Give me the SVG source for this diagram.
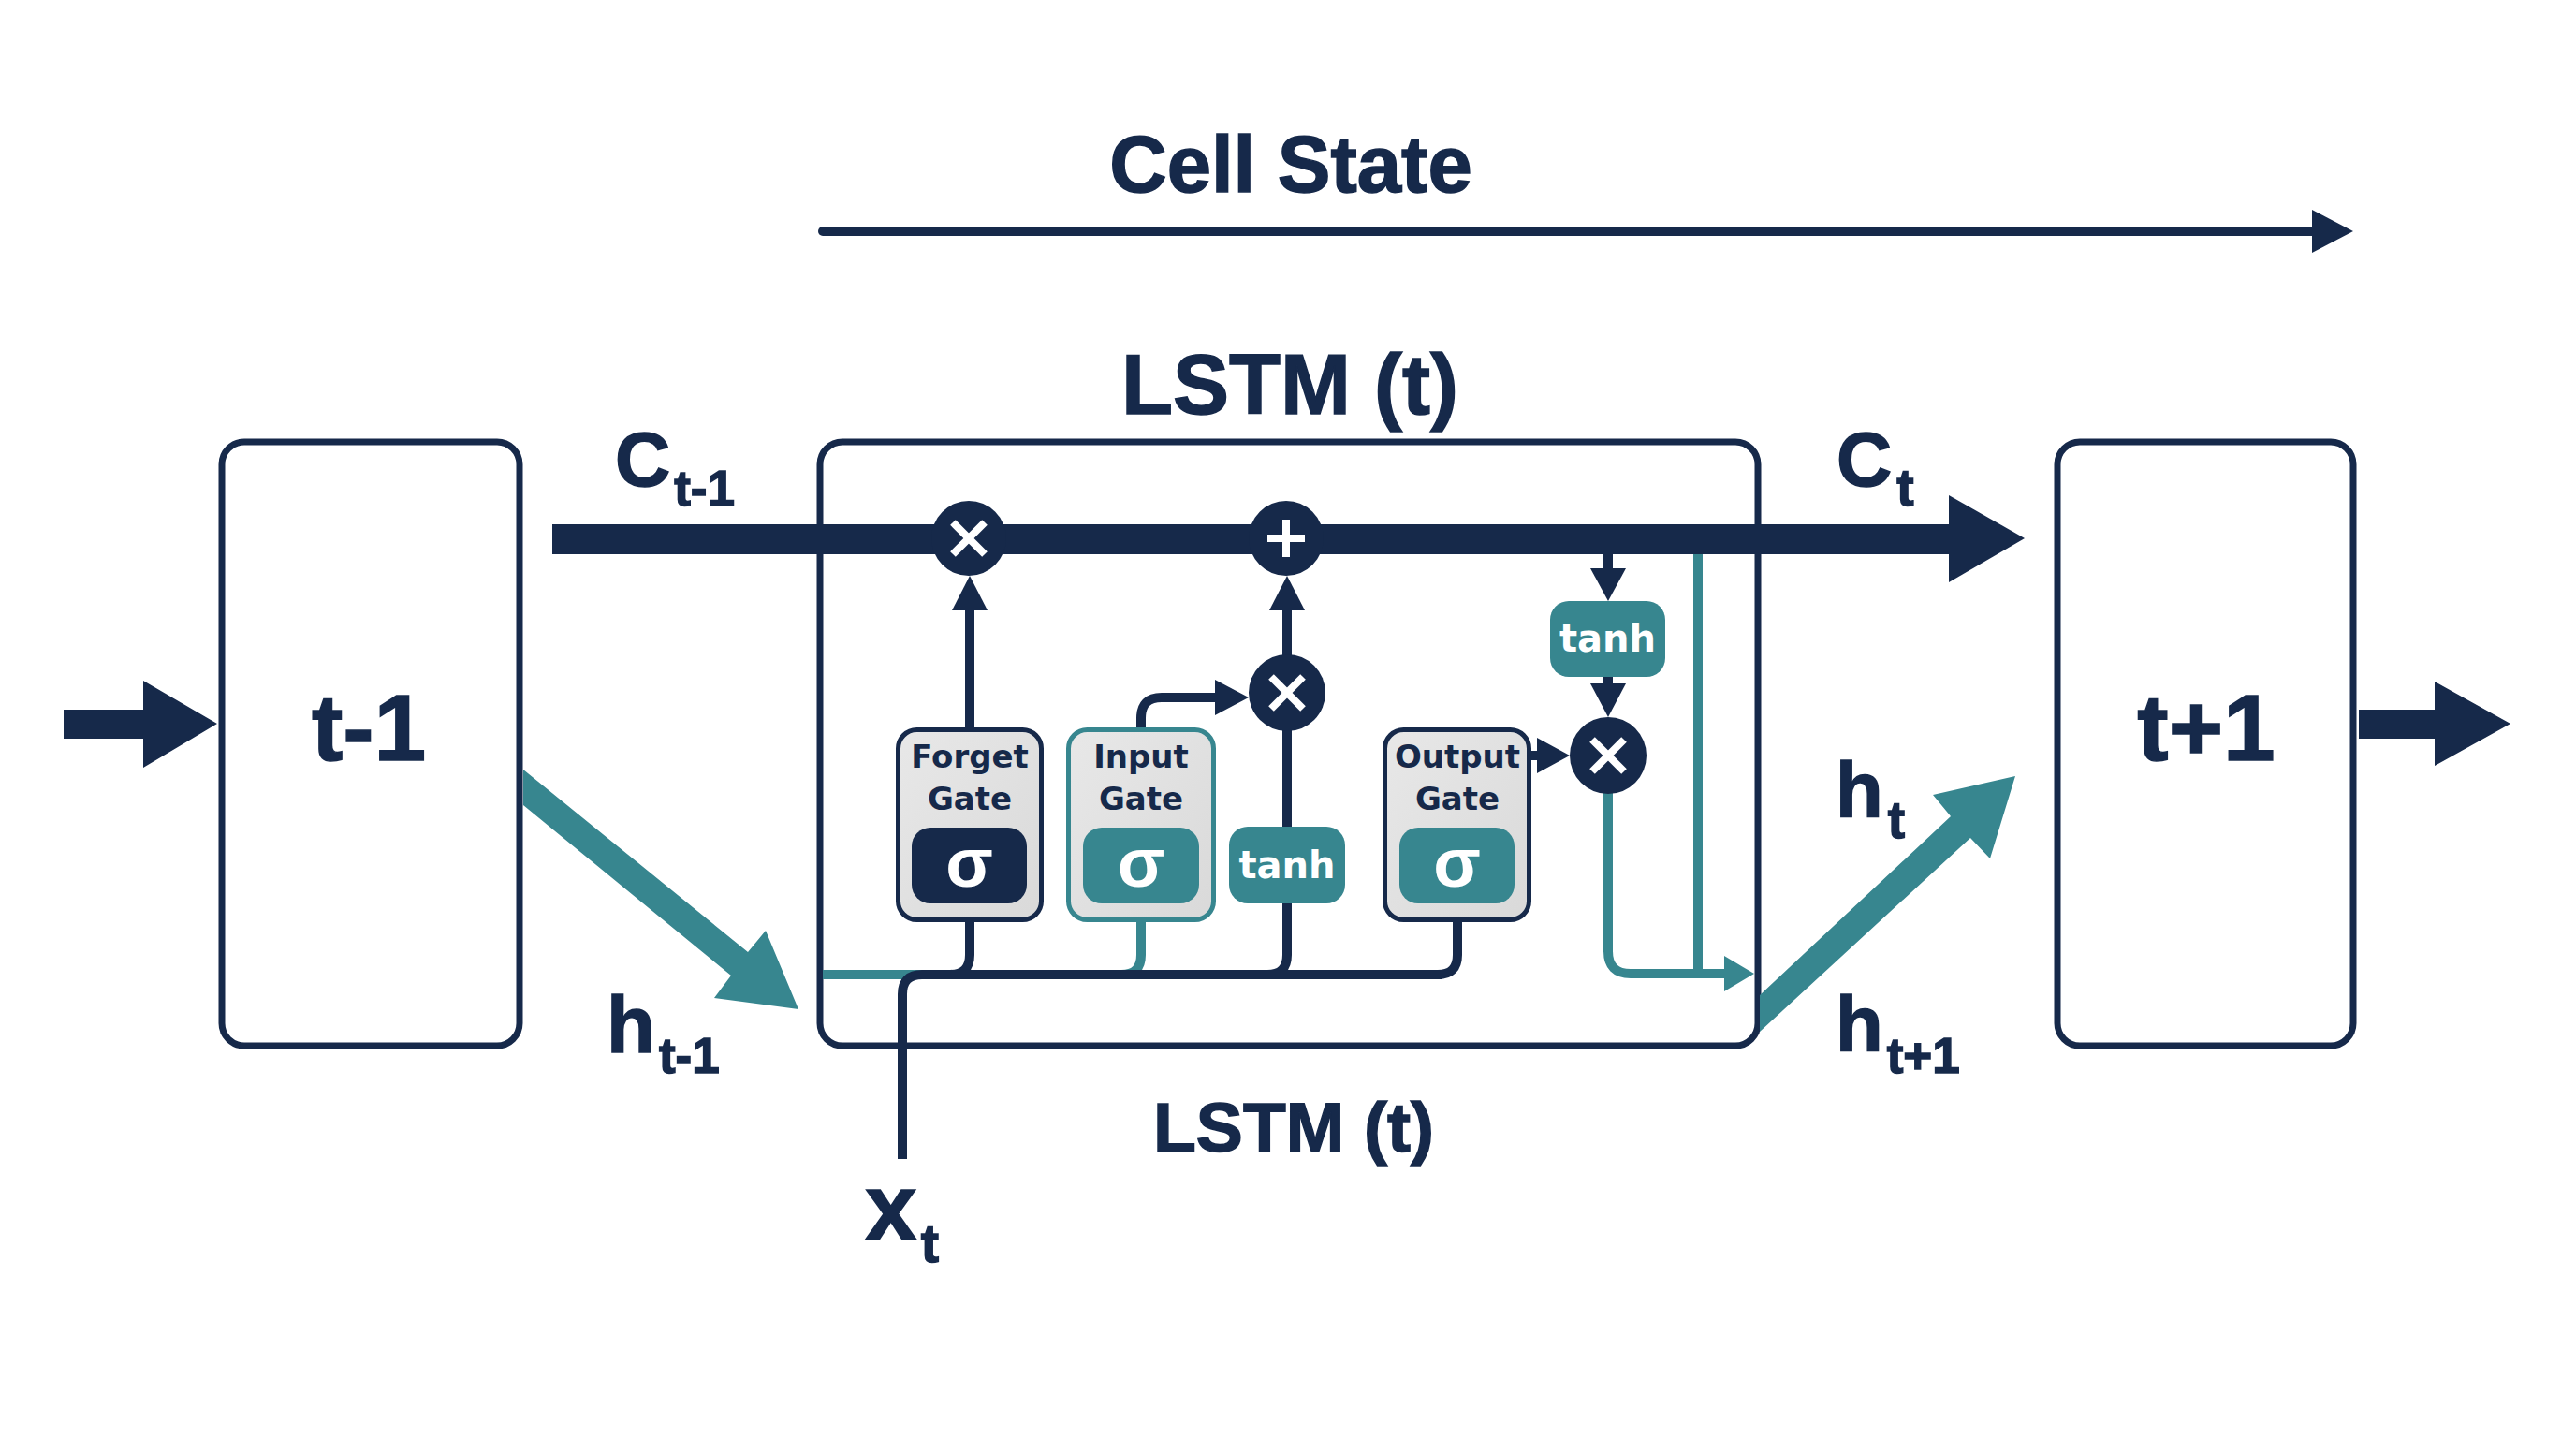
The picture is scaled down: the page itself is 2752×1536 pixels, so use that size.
<svg xmlns="http://www.w3.org/2000/svg" width="2752" height="1536" viewBox="0 0 2752 1536">
  <defs>
    <style>
      .lbl{font-family:"Liberation Sans",Arial,sans-serif;font-weight:700;fill:#16294a;stroke:#16294a;stroke-width:1.5}
      .gl{font-family:"DejaVu Sans","Liberation Sans",sans-serif;font-weight:700;fill:#16294a;font-size:34px;text-anchor:middle}
      .wt{font-family:"DejaVu Sans","Liberation Sans",sans-serif;font-weight:700;fill:#ffffff;font-size:40px;text-anchor:middle}
      .sig{font-family:"Liberation Sans",Arial,sans-serif;font-weight:700;fill:#ffffff;font-size:74px;text-anchor:middle}
      .frame{fill:#ffffff;stroke:#16294a;stroke-width:7}
      .gate{stroke-width:5;fill:url(#gray)}
      .nv{fill:none;stroke:#16294a;stroke-width:10}
      .tl{fill:none;stroke:#37868f;stroke-width:10}
      .nvf{fill:#16294a}
      .tlf{fill:#37868f}
      .op{fill:#16294a}
      .sym{stroke:#ffffff;stroke-width:8;stroke-linecap:butt}
    </style>
    <linearGradient id="gray" x1="0" y1="0" x2="1" y2="1">
      <stop offset="0" stop-color="#e8e8e8"/>
      <stop offset="1" stop-color="#d9d9d9"/>
    </linearGradient>
  </defs>
  <rect width="2752" height="1536" fill="#ffffff"/>

  <!-- Title labels -->
  <g id="title-cell-state">
    <text class="lbl" x="1379" y="205" font-size="85" text-anchor="middle">Cell State</text>
    <line x1="879" y1="247" x2="2476" y2="247" stroke="#16294a" stroke-width="10" stroke-linecap="round"/>
    <polygon class="nvf" points="2470,224 2514,247 2470,270"/>
  </g>
  <g id="title-lstm-top">
    <text class="lbl" x="1378" y="442" font-size="90" text-anchor="middle">LSTM (t)</text>
  </g>
  <g id="title-lstm-bottom">
    <text class="lbl" x="1382" y="1230" font-size="75" text-anchor="middle">LSTM (t)</text>
  </g>

  <!-- Frames -->
  <g id="node-lstm">
    <rect class="frame" x="876" y="472" width="1002" height="645" rx="24"/>
  </g>
  <g id="node-t-minus-1">
    <rect class="frame" x="237" y="472" width="318" height="645" rx="24"/>
    <text class="lbl" x="394" y="812" font-size="100" text-anchor="middle">t-1</text>
  </g>
  <g id="node-t-plus-1">
    <rect class="frame" x="2198" y="472" width="316" height="645" rx="24"/>
    <text class="lbl" x="2357" y="812" font-size="100" text-anchor="middle">t+1</text>
  </g>

  <!-- Connectors -->
  <g id="connectors">
    <!-- external arrows -->
    <polygon class="nvf" points="68,758 153,758 153,727 232,773 153,820 153,789 68,789"/>
    <polygon class="nvf" points="2520,758 2601,758 2601,728 2682,773 2601,818 2601,789 2520,789"/>
    <polygon class="tlf" points="559,822 799,1017 818,994 853,1078 763,1066 781,1042 559,860"/>
    <polygon class="tlf" points="1880,1063 2084,872 2065,849 2153,829 2126,917 2105,895 1880,1102"/>

    <!-- cell state line -->
    <rect class="nvf" x="590" y="560" width="1496" height="32"/>
    <polygon class="nvf" points="2082,529 2163,575 2082,622"/>

    <!-- forget gate to x -->
    <line class="nv" x1="1036" y1="777" x2="1036" y2="648"/>
    <polygon class="nvf" points="1017,652 1036,615 1055,652"/>

    <!-- input gate to input x -->
    <path class="nv" d="M1219,777 V767 Q1219,745 1241,745 H1302"/>
    <polygon class="nvf" points="1298,726 1334,745 1298,764"/>

    <!-- candidate tanh to input x -->
    <line class="nv" x1="1375" y1="883" x2="1375" y2="780"/>
    <!-- input x to + -->
    <line class="nv" x1="1375" y1="700" x2="1375" y2="648"/>
    <polygon class="nvf" points="1356,652 1375,615 1394,652"/>

    <!-- output gate to output x -->
    <line class="nv" x1="1636" y1="807" x2="1646" y2="807"/>
    <polygon class="nvf" points="1642,788 1677,807 1642,826"/>

    <!-- cell to top tanh -->
    <line class="nv" x1="1718" y1="590" x2="1718" y2="612"/>
    <polygon class="nvf" points="1699,607 1718,642 1737,607"/>
    <!-- top tanh to output x -->
    <line class="nv" x1="1718" y1="722" x2="1718" y2="734"/>
    <polygon class="nvf" points="1699,730 1718,766 1737,730"/>

    <!-- output x down to h (teal) -->
    <line class="tl" x1="1814" y1="592" x2="1814" y2="1040"/>
    <path class="tl" d="M1718,846 V1016 Q1718,1040 1742,1040 H1846"/>
    <polygon class="tlf" points="1842,1021 1874,1040 1842,1059"/>

    <!-- input bus -->
    <line class="tl" x1="879" y1="1041" x2="992" y2="1041"/>
    <path class="tl" d="M1219,965 V1020 Q1219,1041 1198,1041"/>
    <path class="nv" d="M1036,965 V1020 Q1036,1041 1015,1041"/>
    <path class="nv" d="M1375,965 V1020 Q1375,1041 1354,1041"/>
    <path class="nv" d="M1557,966 V1020 Q1557,1041 1536,1041"/>
    <path class="nv" d="M964,1238 V1062 Q964,1041 985,1041 H1540"/>
  </g>

  <!-- Operators -->
  <g id="op-forget-mul">
    <circle class="op" cx="1035" cy="575" r="40"/>
    <line class="sym" x1="1018" y1="558" x2="1052" y2="592"/>
    <line class="sym" x1="1052" y1="558" x2="1018" y2="592"/>
  </g>
  <g id="op-add">
    <circle class="op" cx="1374" cy="575" r="40"/>
    <line class="sym" x1="1374" y1="555" x2="1374" y2="595"/>
    <line class="sym" x1="1354" y1="575" x2="1394" y2="575"/>
  </g>
  <g id="op-input-mul">
    <circle class="op" cx="1375" cy="740" r="41"/>
    <line class="sym" x1="1358" y1="723" x2="1392" y2="757"/>
    <line class="sym" x1="1392" y1="723" x2="1358" y2="757"/>
  </g>
  <g id="op-output-mul">
    <circle class="op" cx="1718" cy="807" r="41"/>
    <line class="sym" x1="1701" y1="790" x2="1735" y2="824"/>
    <line class="sym" x1="1735" y1="790" x2="1701" y2="824"/>
  </g>

  <!-- Gates -->
  <g id="gate-forget">
    <rect class="gate" x="959.5" y="779.5" width="153" height="203" rx="20" stroke="#16294a"/>
    <text class="gl" x="1036" y="820">Forget</text>
    <text class="gl" x="1036" y="865">Gate</text>
    <rect x="974" y="884" width="123" height="81" rx="20" fill="#16294a"/>
    <text class="sig" x="1035.5" y="947">σ</text>
  </g>
  <g id="gate-input">
    <rect class="gate" x="1141.5" y="779.5" width="155" height="203" rx="20" stroke="#37868f"/>
    <text class="gl" x="1219" y="820">Input</text>
    <text class="gl" x="1219" y="865">Gate</text>
    <rect x="1157" y="884" width="124" height="81" rx="20" fill="#37868f"/>
    <text class="sig" x="1219" y="947">σ</text>
  </g>
  <g id="gate-output">
    <rect class="gate" x="1479.5" y="779.5" width="154" height="203" rx="20" stroke="#16294a"/>
    <text class="gl" x="1557" y="820">Output</text>
    <text class="gl" x="1557" y="865">Gate</text>
    <rect x="1495" y="884" width="123" height="81" rx="20" fill="#37868f"/>
    <text class="sig" x="1556.5" y="947">σ</text>
  </g>
  <g id="tanh-candidate">
    <rect x="1313" y="883" width="124" height="82" rx="20" fill="#37868f"/>
    <text class="wt" x="1375" y="938">tanh</text>
  </g>
  <g id="tanh-output">
    <rect x="1656" y="642" width="123" height="81" rx="20" fill="#37868f"/>
    <text class="wt" x="1717.5" y="696">tanh</text>
  </g>

  <!-- Variable labels -->
  <g id="label-c-prev">
    <text class="lbl" x="657" y="519" font-size="82">C<tspan font-size="53" dx="4" dy="21">t-1</tspan></text>
  </g>
  <g id="label-c-t">
    <text class="lbl" x="1962" y="519" font-size="82">C<tspan font-size="55" dx="5" dy="21">t</tspan></text>
  </g>
  <g id="label-h-prev">
    <text class="lbl" x="648" y="1124" font-size="85">h<tspan font-size="53" dx="4" dy="22">t-1</tspan></text>
  </g>
  <g id="label-h-t">
    <text class="lbl" x="1961" y="873" font-size="83">h<tspan font-size="55" dx="5" dy="22">t</tspan></text>
  </g>
  <g id="label-h-next">
    <text class="lbl" x="1961" y="1123" font-size="83">h<tspan font-size="53" dx="4" dy="23">t+1</tspan></text>
  </g>
  <g id="label-x-t">
    <text class="lbl" x="924" y="1324" font-size="100">x<tspan font-size="58" dx="4" dy="24">t</tspan></text>
  </g>
</svg>
